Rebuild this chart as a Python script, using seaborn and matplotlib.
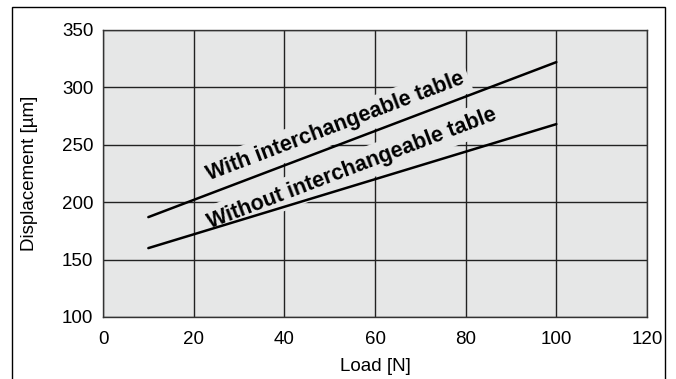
import pandas as pd
import matplotlib.pyplot as plt
import seaborn as sns
from matplotlib.patches import Rectangle

# Datos
carga_n = [10, 100]
con_mesa = [187, 322]
sin_mesa = [160, 268]
series = ["With interchangeable table", "Without interchangeable table"]

x_ticks = [0, 20, 40, 60, 80, 100, 120]
y_ticks = [100, 150, 200, 250, 300, 350]

sns.set_theme(style="white")
plt.rcParams["font.family"] = ["Liberation Sans", "DejaVu Sans"]
plt.rcParams["text.color"] = "black"
plt.rcParams["axes.labelcolor"] = "black"

df = pd.DataFrame({
    "load": carga_n * 2,
    "disp": con_mesa + sin_mesa,
    "serie": [series[0]] * len(carga_n) + [series[1]] * len(carga_n),
})

bg = "#e6e7e7"
fig = plt.figure(figsize=(6.76, 3.79), dpi=100)
ax = fig.add_axes([0.1524, 0.1636, 0.8047, 0.7573])
ax.set_facecolor(bg)

sns.lineplot(data=df, x="load", y="disp", hue="serie",
             palette=["black", "black"], linewidth=1.8, legend=False,
             ax=ax, zorder=3)

ax.set_xlim(0, 120)
ax.set_ylim(100, 350)
ax.set_xticks(x_ticks)
ax.set_yticks(y_ticks)
ax.set_axisbelow(True)
ax.grid(True, color="#222222", linewidth=1.0)
for s in ax.spines.values():
    s.set_color("#333333")
    s.set_linewidth(1.0)
ax.tick_params(axis="both", labelsize=13.5, length=0, colors="black")
ax.tick_params(axis="x", pad=10)
ax.tick_params(axis="y", pad=7)

ax.set_xlabel("Load [N]", fontsize=13.5, labelpad=7)
ax.set_ylabel("Displacement [µm]", fontsize=13.5, labelpad=17)

# Etiquetas sobre las curvas (caja del color de fondo que corta la rejilla)
caja = dict(boxstyle="square,pad=0.25", facecolor=bg, edgecolor="none")
ax.text(51.2, 265.5, series[0], rotation=20.8, rotation_mode="anchor",
        ha="center", va="center", fontsize=15.5, fontweight="bold",
        bbox=caja, zorder=2.5)
ax.text(55.0, 229.5, series[1], rotation=20.8, rotation_mode="anchor",
        ha="center", va="center", fontsize=15.5, fontweight="bold",
        bbox=caja, zorder=2.5)

# Marco exterior de la figura
marco = Rectangle((12 / 676, -0.1), (665 - 12) / 676, 1.1 - 7 / 379,
                  transform=fig.transFigure, fill=False,
                  edgecolor="black", linewidth=1.0, clip_on=False)
fig.patches.append(marco)

plt.savefig("out.png", dpi=100)
plt.close()
